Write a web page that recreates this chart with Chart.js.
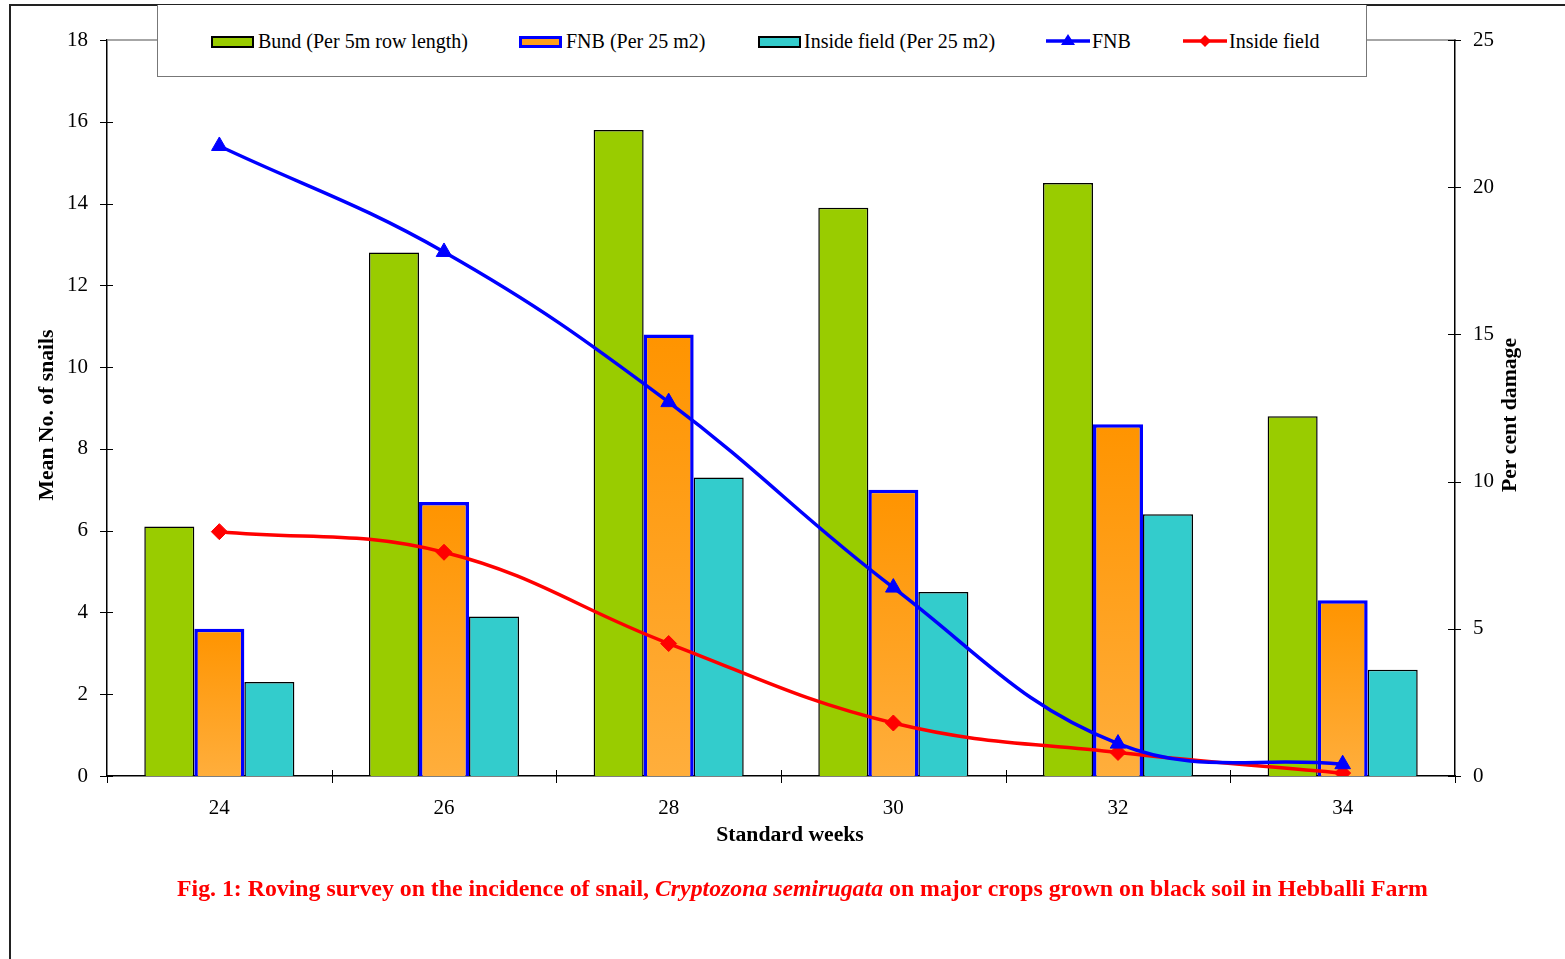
<!DOCTYPE html>
<html>
<head>
<meta charset="utf-8">
<script src="https://cdn.jsdelivr.net/npm/chart.js@4.4.0/dist/chart.umd.min.js"></script>
<style>
  html, body { margin: 0; padding: 0; background: #fff; }
  #wrap { position: relative; width: 1565px; height: 959px; overflow: hidden;
          font-family: "Liberation Serif", "Times New Roman", serif; color: #000; }
  #frame { position: absolute; left: 9px; top: 4px; width: 1600px; height: 1000px;
           border: 2px solid #222; box-sizing: border-box; }
  #chart { position: absolute; left: 0; top: 0; }
  #legend { position: absolute; left: 157px; top: 5px; width: 1210px; height: 72px;
            border: 1px solid #777; border-top: none; background: #fff; box-sizing: border-box; }
  .item { position: absolute; top: 24px; height: 24px; line-height: 24px; font-size: 20px;
          white-space: nowrap; }
  .sw { position: absolute; top: 7px; width: 43px; height: 12px; box-sizing: border-box; }
  .item svg { position: absolute; top: 2px; }
  #caption { position: absolute; left: 177px; top: 875px; white-space: nowrap;
             font-size: 23.8px; font-weight: bold; color: #ff0000; }
</style>
</head>
<body>
<div id="wrap">
  <div id="frame"></div>
  <canvas id="chart" width="1565" height="959"></canvas>
  <div id="legend">
    <div class="item" style="left:53px"><span class="sw" style="left:0;border:2px solid #000;background:#99cc00"></span><span style="margin-left:47px">Bund (Per 5m row length)</span></div>
    <div class="item" style="left:361px"><span class="sw" style="left:0;border:3px solid #0000ff;background:#ff9f1a"></span><span style="margin-left:47px">FNB (Per 25 m2)</span></div>
    <div class="item" style="left:600px"><span class="sw" style="left:0;border:2px solid #000;background:#33cccc"></span><span style="margin-left:46px">Inside field (Per 25 m2)</span></div>
    <div class="item" style="left:888px">
      <svg width="44" height="20" viewBox="0 0 44 20"><line x1="0" y1="10" x2="44" y2="10" stroke="#0000ff" stroke-width="3.5"/><polygon points="22,3 29,14 15,14" fill="#0000ff"/></svg>
      <span style="margin-left:46px">FNB</span></div>
    <div class="item" style="left:1025px">
      <svg width="44" height="20" viewBox="0 0 44 20"><line x1="0" y1="10" x2="44" y2="10" stroke="#ff0000" stroke-width="3.5"/><polygon points="22,4 28,10 22,16 16,10" fill="#ff0000"/></svg>
      <span style="margin-left:46px">Inside field</span></div>
  </div>
  <div id="caption">Fig. 1: Roving survey on the incidence of snail, <i>Cryptozona semirugata</i> on major crops grown on black soil in Hebballi Farm</div>
</div>
<script>
// Standard weeks surveyed
const weeks = ['24', '26', '28', '30', '32', '34'];

// Mean number of snails (left axis)
const bundSnails   = [6.1, 12.8, 15.8, 13.9, 14.5, 8.8];
const fnbSnails    = [3.6, 6.7, 10.8, 7.0, 8.6, 4.3];
const insideSnails = [2.3, 3.9, 7.3, 4.5, 6.4, 2.6];

// Per cent damage (right axis)
const fnbDamage    = [21.4, 17.8, 12.7, 6.4, 1.1, 0.4];
const insideDamage = [8.3, 7.6, 4.5, 1.8, 0.8, 0.1];

// Axis ranges and tick steps
const snailTicks  = { min: 0, max: 18, step: 2 };
const damageTicks = { min: 0, max: 25, step: 5 };

const SERIF = '"Liberation Serif", "Times New Roman", serif';

// Orange gradient running from the top of each FNB bar to the baseline
function fnbFill(ctx) {
  const chart = ctx.chart;
  const y = chart.scales && chart.scales.y;
  if (!chart.chartArea || !y || ctx.raw == null) return '#ff9f1a';
  const top = y.getPixelForValue(ctx.raw);
  const base = y.getPixelForValue(0);
  const g = chart.ctx.createLinearGradient(0, top, 0, base);
  g.addColorStop(0, '#ff9400');
  g.addColorStop(1, '#ffae3c');
  return g;
}

// Plot frame, tick marks that straddle the axes, and axis titles
const axisDecor = {
  id: 'axisDecor',
  beforeDatasetsDraw(chart) {
    const { ctx, chartArea: a } = chart;
    ctx.save();
    ctx.strokeStyle = '#888';
    ctx.lineWidth = 1.5;
    ctx.beginPath();
    ctx.moveTo(a.left, a.top);
    ctx.lineTo(a.right, a.top);
    ctx.stroke();
    ctx.restore();
  },
  afterDraw(chart) {
    const { ctx, chartArea: a } = chart;
    const { x, y, y1 } = chart.scales;
    ctx.save();
    ctx.strokeStyle = '#000';
    ctx.lineWidth = 1;
    ctx.beginPath();
    y.ticks.forEach(t => {
      const py = Math.round(y.getPixelForValue(t.value)) + 0.5;
      ctx.moveTo(a.left - 7, py);
      ctx.lineTo(a.left + (t.value === snailTicks.max ? 0 : 6), py);
    });
    y1.ticks.forEach(t => {
      const py = Math.round(y1.getPixelForValue(t.value)) + 0.5;
      ctx.moveTo(a.right - 7, py);
      ctx.lineTo(a.right + 6, py);
    });
    const step = x.getPixelForValue(1) - x.getPixelForValue(0);
    for (let i = 0; i <= weeks.length; i++) {
      const px = Math.round(x.getPixelForValue(i) - step / 2) + 0.5;
      ctx.moveTo(px, a.bottom - (i === 0 || i === weeks.length ? 0 : 6));
      ctx.lineTo(px, a.bottom + 7);
    }
    ctx.stroke();

    ctx.fillStyle = '#000';
    ctx.font = 'bold 21.7px ' + SERIF;
    ctx.textAlign = 'center';
    ctx.textBaseline = 'middle';
    ctx.fillText('Standard weeks', (a.left + a.right) / 2 + 9, 835);
    const cy = (a.top + a.bottom) / 2 + 7;
    [[47, 'Mean No. of snails'], [1510, 'Per cent damage']].forEach(([tx, label]) => {
      ctx.save();
      ctx.translate(tx, cy);
      ctx.rotate(-Math.PI / 2);
      ctx.fillText(label, 0, 0);
      ctx.restore();
    });
    ctx.restore();
  }
};

new Chart(document.getElementById('chart'), {
  type: 'bar',
  data: {
    labels: weeks,
    datasets: [
      {
        type: 'line', label: 'FNB', data: fnbDamage, yAxisID: 'y1', order: 0,
        borderColor: '#0000ff', backgroundColor: '#0000ff', borderWidth: 3.5,
        tension: 0.4, pointStyle: 'triangle', pointRadius: 9, pointBorderWidth: 1
      },
      {
        type: 'line', label: 'Inside field', data: insideDamage, yAxisID: 'y1', order: 0,
        borderColor: '#ff0000', backgroundColor: '#ff0000', borderWidth: 3.5,
        tension: 0.4, pointStyle: 'rectRot', pointRadius: 8, pointBorderWidth: 1
      },
      {
        label: 'Bund (Per 5m row length)', data: bundSnails, yAxisID: 'y', order: 1,
        backgroundColor: '#99cc00', borderColor: '#000', borderWidth: 1.5,
        categoryPercentage: 0.668, barPercentage: 1
      },
      {
        label: 'FNB (Per 25 m2)', data: fnbSnails, yAxisID: 'y', order: 1,
        backgroundColor: fnbFill, borderColor: '#0000ff', borderWidth: 3.5,
        categoryPercentage: 0.668, barPercentage: 1
      },
      {
        label: 'Inside field (Per 25 m2)', data: insideSnails, yAxisID: 'y', order: 1,
        backgroundColor: '#33cccc', borderColor: '#000', borderWidth: 1.5,
        categoryPercentage: 0.668, barPercentage: 1
      }
    ]
  },
  options: {
    responsive: false,
    animation: false,
    devicePixelRatio: 1,
    layout: { padding: { top: 40, left: 0, right: 0, bottom: 0 } },
    plugins: { legend: { display: false }, tooltip: { enabled: false } },
    scales: {
      x: {
        offset: true,
        grid: { display: false, drawTicks: false },
        border: { display: true, color: '#000', width: 1.5 },
        ticks: { color: '#000', font: { family: SERIF, size: 21 }, padding: 20 },
        afterFit(s) { s.height = 183; }
      },
      y: {
        position: 'left',
        min: snailTicks.min, max: snailTicks.max,
        grid: { display: false, drawTicks: false },
        border: { display: true, color: '#000', width: 1.5 },
        ticks: { stepSize: snailTicks.step, color: '#000', font: { family: SERIF, size: 21 }, padding: 19 },
        afterFit(s) { s.width = 107; }
      },
      y1: {
        position: 'right',
        min: damageTicks.min, max: damageTicks.max,
        grid: { display: false, drawTicks: false },
        border: { display: true, color: '#000', width: 1.5 },
        ticks: { stepSize: damageTicks.step, color: '#000', font: { family: SERIF, size: 21 }, padding: 18 },
        afterFit(s) { s.width = 110; }
      }
    }
  },
  plugins: [axisDecor]
});
</script>
</body>
</html>
